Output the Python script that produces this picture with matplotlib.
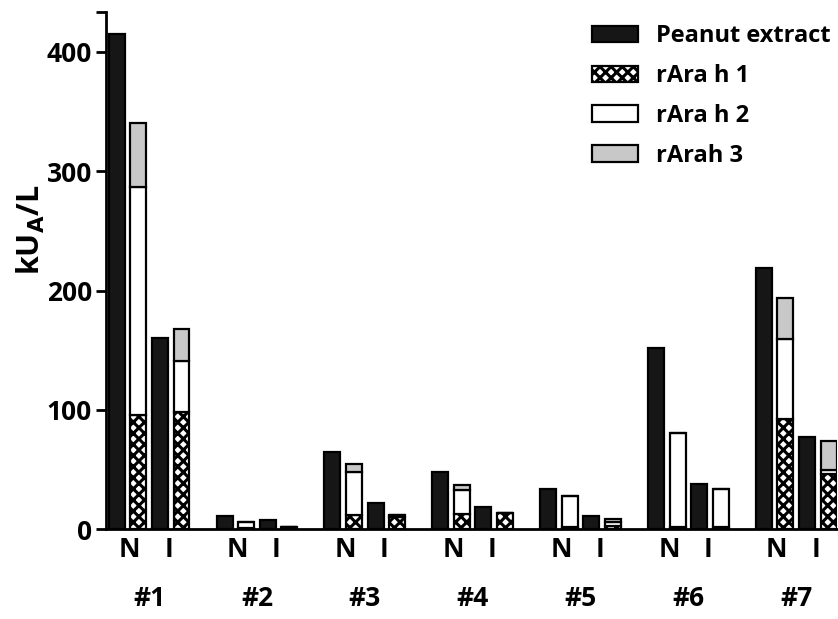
import matplotlib.pyplot as plt
import numpy as np

# ------------------------------------------------------------------------------
# Data (kU_A/L)
# ------------------------------------------------------------------------------
groups = ["#1", "#2", "#3", "#4", "#5", "#6", "#7"]
# peanut extract, N and I
peanutN = [415, 11, 65, 48, 34, 152, 219]
peanutI = [160, 8, 22, 19, 11, 38, 77]
# components, N
araH1N = [96, 1, 12, 13, 2, 2, 92]
araH2N = [191, 5, 36, 20, 26, 79, 67]
araH3N = [53, 0, 7, 4, 0, 0, 35]
# components, I
araH1I = [98, 2, 10, 14, 3, 2, 46]
araH2I = [43, 0, 2, 0, 3, 32, 4]
araH3I = [27, 0, 0, 0, 3, 0, 24]

seriesNames = ["Peanut extract", "rAra h 1", "rAra h 2", "rArah 3"]

plt.rcParams["font.family"] = ["Open Sans", "DejaVu Sans"]
plt.rcParams["font.weight"] = "bold"
plt.rcParams["hatch.linewidth"] = 2.2

fig, ax = plt.subplots(figsize=(8.38, 6.19), dpi=100)
fig.subplots_adjust(left=0.127, right=0.999, top=0.98, bottom=0.145)

base = np.arange(len(groups)) * 5.0
width = 0.74
edge = dict(edgecolor="black", linewidth=1.6)


def stacked(x, h1, h2, h3):
    h1 = np.array(h1)
    h2 = np.array(h2)
    h3 = np.array(h3)
    ax.bar(x, h1, width, color="white", hatch="xxx", **edge)
    ax.bar(x, h2, width, bottom=h1, color="white", **edge)
    ax.bar(x, h3, width, bottom=h1 + h2, color="#c8c8c8", **edge)


ax.bar(base, peanutN, width, color="#161616", **edge)
stacked(base + 1, araH1N, araH2N, araH3N)
ax.bar(base + 2, peanutI, width, color="#161616", **edge)
stacked(base + 3, araH1I, araH2I, araH3I)

# legend with proxy patches
handles = [
    plt.Rectangle((0, 0), 1, 1, facecolor="#161616", **edge),
    plt.Rectangle((0, 0), 1, 1, facecolor="white", hatch="xxx", **edge),
    plt.Rectangle((0, 0), 1, 1, facecolor="white", **edge),
    plt.Rectangle((0, 0), 1, 1, facecolor="#c8c8c8", **edge),
]
ax.legend(handles, seriesNames, loc="upper right", bbox_to_anchor=(1.02, 1.018), frameon=False,
          handlelength=1.95, handleheight=0.7, labelspacing=0.67, handletextpad=0.75,
          prop={"weight": "bold", "size": 17})

ax.set_xlim(-0.48, 33.4)
ax.set_ylim(0, 433)
ax.set_yticks([0, 100, 200, 300, 400, 433])
ax.set_yticklabels(["0", "100", "200", "300", "400", ""])
ax.tick_params(axis="y", labelsize=19, width=2, length=7)
ax.set_ylabel("kU$_\\mathbf{A}$/L", fontsize=22, fontweight="bold")
ax.yaxis.set_label_coords(-0.082, 0.58)

# N / I labels under each pair, group names below
ax.set_xticks(np.concatenate([base + 0.6, base + 2.4]))
ax.set_xticklabels(["N"] * len(groups) + ["I"] * len(groups))
ax.tick_params(axis="x", length=0, labelsize=19, pad=5)
for x, name in zip(base + 1.5, groups):
    ax.text(x, -0.108, name, transform=ax.get_xaxis_transform(), ha="center", va="top",
            fontsize=19, fontweight="bold")

for s in ["top", "right"]:
    ax.spines[s].set_visible(False)
ax.spines["left"].set_linewidth(2)
ax.spines["bottom"].set_linewidth(2)

fig.savefig("out.png", dpi=100)
